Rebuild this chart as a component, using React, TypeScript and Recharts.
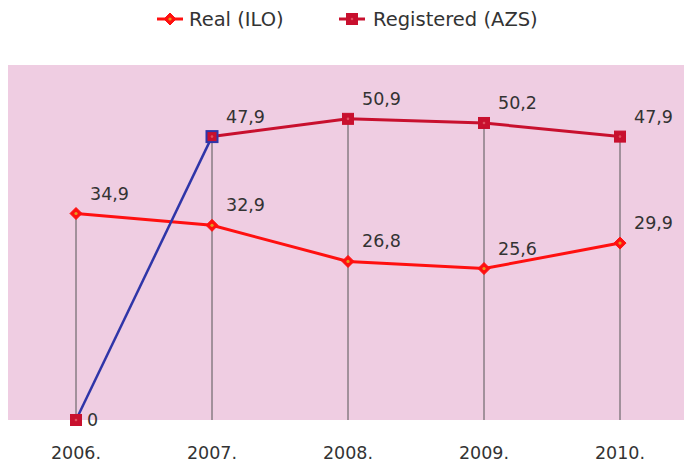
import React from 'react';
import { LineChart, Line, XAxis, YAxis, CartesianGrid, ReferenceLine, LabelList } from 'recharts';

const years = ['2006.', '2007.', '2008.', '2009.', '2010.'];
const realIlo = [34.9, 32.9, 26.8, 25.6, 29.9];
const registeredAzs = [0, 47.9, 50.9, 50.2, 47.9];

const RED = '#ff1010';
const DARK_RED = '#c8102e';
const BLUE = '#2f35a8';
const TEXT = '#333333';
const FONT = '"DejaVu Sans", Verdana, sans-serif';

// registered series is split: first step (2006 -> 2007) drawn in blue
const data = years.map((year, i) => ({
  year,
  real: realIlo[i],
  regLink: i <= 1 ? registeredAzs[i] : null,
  regMain: i >= 1 ? registeredAzs[i] : null,
  top: Math.max(realIlo[i], registeredAzs[i]),
}));

const fmt = (v: number) => (v === 0 ? '0' : v.toFixed(1).replace('.', ','));

const Diamond = ({ cx, cy }: any) => {
  if (cx == null || cy == null) return null;
  return (
    <g>
      <path d={`M${cx},${cy - 6} L${cx + 6},${cy} L${cx},${cy + 6} L${cx - 6},${cy} Z`} fill={RED} stroke={RED} strokeWidth={1} />
      <circle cx={cx} cy={cy} r={1.6} fill="#e0a020" />
    </g>
  );
};

const Square = ({ cx, cy, stroke }: any) => {
  if (cx == null || cy == null) return null;
  return (
    <g>
      <rect x={cx - 5.5} y={cy - 5.5} width={11} height={11} fill={DARK_RED} stroke={stroke || DARK_RED} strokeWidth={stroke ? 2 : 1} />
      <circle cx={cx} cy={cy} r={1.3} fill="#e05060" />
    </g>
  );
};

const MainDot = (props: any) => {
  if (props.index === 1) return <g key={props.key} />;
  return <Square key={props.key} {...props} stroke={undefined} />;
};

const LinkDot = (props: any) => {
  if (props.index === 1) return <Square key={props.key} {...props} stroke={BLUE} />;
  return <Square key={props.key} {...props} stroke={undefined} />;
};

const ValueLabel = (props: any) => {
  const { x, y, value } = props;
  if (value == null || x == null) return null;
  const zero = value === 0;
  return (
    <text
      x={x + (zero ? 11 : 14)}
      y={zero ? y + 6 : y - 14}
      fill={TEXT}
      fontSize={17.5}
      fontFamily={FONT}
      textAnchor="start"
    >
      {fmt(value)}
    </text>
  );
};

const YearTick = ({ x, y, payload }: any) => (
  <text x={x} y={y + 31} fill={TEXT} fontSize={17.5} fontFamily={FONT} textAnchor="middle">
    {payload.value}
  </text>
);

const LegendRow = () => (
  <svg width={684} height={40} style={{ position: 'absolute', left: 0, top: 0 }}>
    <line x1={157} y1={19} x2={183} y2={19} stroke={RED} strokeWidth={3} />
    <Diamond cx={170} cy={19} />
    <line x1={339} y1={19} x2={365} y2={19} stroke={DARK_RED} strokeWidth={3} />
    <Square cx={352} cy={19} />
    <text x={189} y={26} fill={TEXT} fontSize={19.5} fontFamily={FONT}>Real (ILO)</text>
    <text x={373} y={26} fill={TEXT} fontSize={19.5} fontFamily={FONT}>Registered (AZS)</text>
  </svg>
);

export default function App() {
  return (
    <div style={{ position: 'absolute', left: 0, top: 0, width: 684, height: 473, background: '#fff' }}>
      <LineChart width={684} height={473} data={data} margin={{ top: 65, right: 0, bottom: 0, left: 8 }}>
        <CartesianGrid horizontal={false} vertical={false} fill="#efcde2" />
        <XAxis
          dataKey="year"
          axisLine={false}
          tickLine={false}
          padding={{ left: 68, right: 64 }}
          height={53}
          interval={0}
          tick={<YearTick />}
        />
        <YAxis hide domain={[0, 60]} />
        {data.map((d) => (
          <ReferenceLine
            key={d.year}
            segment={[
              { x: d.year, y: 0 },
              { x: d.year, y: d.top },
            ]}
            stroke="#555555"
            strokeWidth={1}
          />
        ))}
        <Line
          dataKey="real"
          stroke={RED}
          strokeWidth={3}
          dot={<Diamond />}
          activeDot={false}
          isAnimationActive={false}
        >
          <LabelList dataKey="real" content={<ValueLabel />} />
        </Line>
        <Line
          dataKey="regMain"
          stroke={DARK_RED}
          strokeWidth={3}
          dot={<MainDot />}
          activeDot={false}
          connectNulls={false}
          isAnimationActive={false}
        >
          <LabelList dataKey="regMain" content={<ValueLabel />} />
        </Line>
        <Line
          dataKey="regLink"
          stroke={BLUE}
          strokeWidth={2.5}
          dot={<LinkDot />}
          activeDot={false}
          connectNulls={false}
          isAnimationActive={false}
        >
          <LabelList
            dataKey="regLink"
            content={(p: any) => (p.value === 0 ? <ValueLabel {...p} /> : null)}
          />
        </Line>
      </LineChart>
      <LegendRow />
    </div>
  );
}
